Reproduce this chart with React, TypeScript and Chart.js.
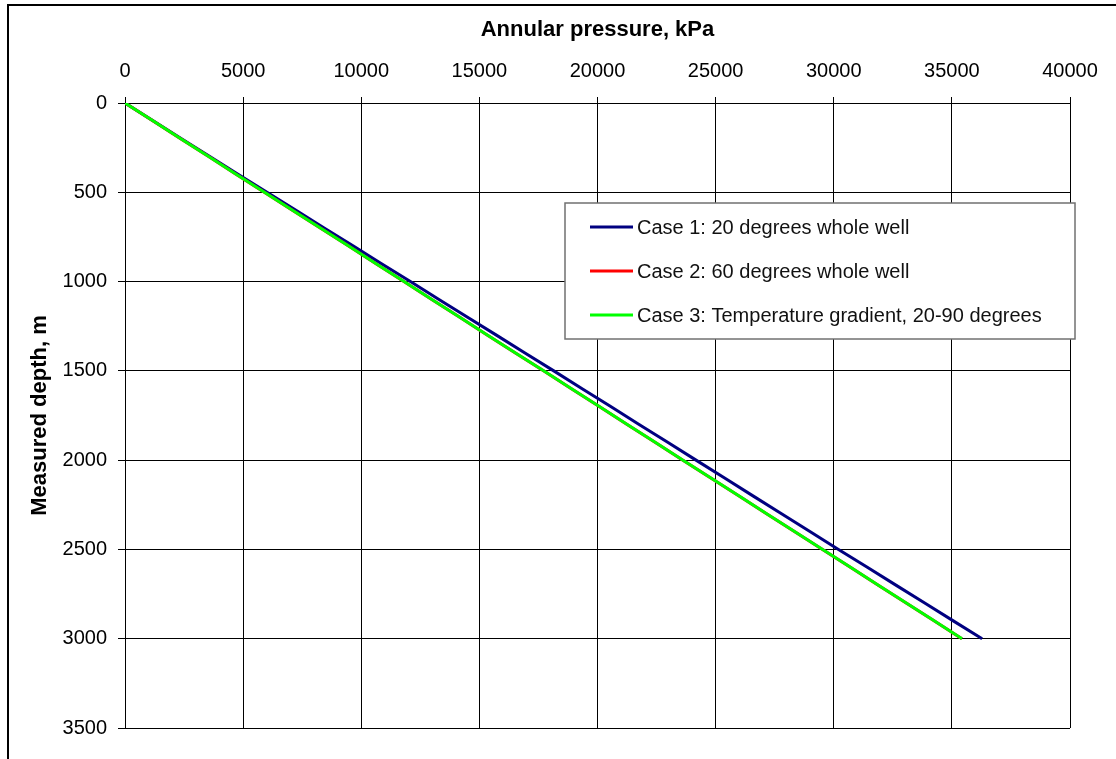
import React, { useEffect, useRef } from 'react';
import { Chart, registerables } from 'chart.js';

Chart.register(...registerables);

// Measured depth, m
const depths = [
  0, 100, 200, 300, 400, 500, 600, 700, 800, 900, 1000, 1100, 1200, 1300, 1400, 1500,
  1600, 1700, 1800, 1900, 2000, 2100, 2200, 2300, 2400, 2500, 2600, 2700, 2800, 2900, 3000,
];

// Annular pressure, kPa
const case1Pressure = [
  0, 1190, 2390, 3590, 4800, 6010, 7220, 8430, 9650, 10860, 12080, 13290, 14500, 15720, 16930, 18150,
  19350, 20560, 21760, 22970, 24170, 25380, 26580, 27790, 28990, 30200, 31420, 32630, 33850, 35060, 36280,
];
const case2Pressure = [
  0, 1175, 2355, 3540, 4715, 5895, 7085, 8265, 9450, 10625, 11805, 12985, 14170, 15345, 16525, 17715,
  18895, 20075, 21255, 22435, 23615, 24795, 25975, 27155, 28335, 29525, 30705, 31885, 33065, 34245, 35425,
];
const case3Pressure = [
  0, 1180, 2360, 3540, 4720, 5900, 7090, 8270, 9450, 10630, 11810, 12990, 14170, 15350, 16530, 17720,
  18900, 20080, 21260, 22440, 23620, 24800, 25980, 27160, 28340, 29530, 30710, 31890, 33070, 34250, 35430,
];

const seriesLabels = [
  'Case 1: 20 degrees whole well',
  'Case 2: 60 degrees whole well',
  'Case 3: Temperature gradient, 20-90 degrees',
];
const seriesColors = ['#000080', '#FF0000', '#00FF00'];

const xTitle = 'Annular pressure, kPa';
const yTitle = 'Measured depth, m';

const FONT = '"Liberation Sans", Arial, Helvetica, sans-serif';

const framePlugin = {
  id: 'outerFrame',
  beforeDraw(chart: any) {
    const ctx = chart.ctx;
    ctx.save();
    ctx.fillStyle = '#ffffff';
    ctx.fillRect(0, 0, chart.width, chart.height);
    ctx.strokeStyle = '#000000';
    ctx.lineWidth = 2;
    ctx.strokeRect(8, 5, 2000, 2000);
    ctx.restore();
  },
};

const boxLegendPlugin = {
  id: 'boxLegend',
  afterDraw(chart: any) {
    const ctx = chart.ctx;
    const left = 565;
    const top = 203;
    const width = 510;
    const height = 136;
    ctx.save();
    ctx.fillStyle = '#ffffff';
    ctx.fillRect(left, top, width, height);
    ctx.strokeStyle = '#707070';
    ctx.lineWidth = 1.5;
    ctx.strokeRect(left, top, width, height);
    ctx.font = `20px ${FONT}`;
    ctx.textBaseline = 'middle';
    ctx.textAlign = 'left';
    chart.data.datasets.forEach((ds: any, i: number) => {
      const y = top + 24 + i * 44;
      ctx.strokeStyle = ds.borderColor;
      ctx.lineWidth = 3;
      ctx.beginPath();
      ctx.moveTo(left + 25, y);
      ctx.lineTo(left + 68, y);
      ctx.stroke();
      ctx.fillStyle = '#111111';
      ctx.fillText(ds.label, left + 72, y + 1);
    });
    ctx.restore();
  },
};

export default function App() {
  const canvasRef = useRef<HTMLCanvasElement | null>(null);

  useEffect(() => {
    if (!canvasRef.current) return;
    const pressures = [case1Pressure, case2Pressure, case3Pressure];
    const chart = new Chart(canvasRef.current, {
      type: 'line',
      data: {
        datasets: pressures.map((p, i) => ({
          label: seriesLabels[i],
          data: depths.map((d, j) => ({ x: p[j], y: d })),
          borderColor: seriesColors[i],
          backgroundColor: seriesColors[i],
          borderWidth: 3,
          pointRadius: 0,
          tension: 0,
          fill: false,
          order: pressures.length - 1 - i,
        })),
      },
      options: {
        responsive: false,
        animation: false,
        events: [],
        layout: { padding: { left: 0, top: 0, right: 46, bottom: 31 } },
        plugins: {
          legend: { display: false },
          tooltip: { enabled: false },
          title: { display: false },
        },
        scales: {
          x: {
            type: 'linear',
            position: 'top',
            min: 0,
            max: 40000,
            ticks: {
              stepSize: 5000,
              color: '#000',
              padding: 14,
              maxRotation: 0,
              font: { family: FONT, size: 20 },
              callback: (v: any) => String(v),
            },
            grid: { color: '#000', lineWidth: 1, tickLength: 6, drawTicks: true },
            border: { color: '#000', width: 1 },
            title: {
              display: true,
              text: xTitle,
              color: '#000',
              font: { family: FONT, size: 22, weight: 'bold' },
              padding: { top: 17, bottom: 0 },
            },
            afterFit: (s: any) => {
              s.height = 103;
            },
          },
          y: {
            type: 'linear',
            position: 'left',
            reverse: true,
            min: 0,
            max: 3500,
            ticks: {
              stepSize: 500,
              color: '#000',
              padding: 11,
              font: { family: FONT, size: 20 },
              callback: (v: any) => String(v),
            },
            grid: { color: '#000', lineWidth: 1, tickLength: 7, drawTicks: true },
            border: { color: '#000', width: 1 },
            title: {
              display: true,
              text: yTitle,
              color: '#000',
              font: { family: FONT, size: 22, weight: 'bold' },
              padding: { top: 27, bottom: 0 },
            },
            afterFit: (s: any) => {
              s.width = 125;
            },
          },
        },
      },
      plugins: [framePlugin, boxLegendPlugin],
    } as any);
    return () => chart.destroy();
  }, []);

  return (
    <div style={{ position: 'fixed', left: 0, top: 0, width: 1116, height: 759, overflow: 'hidden', background: '#fff' }}>
      <canvas ref={canvasRef} width={1116} height={759} style={{ display: 'block' }} />
    </div>
  );
}
